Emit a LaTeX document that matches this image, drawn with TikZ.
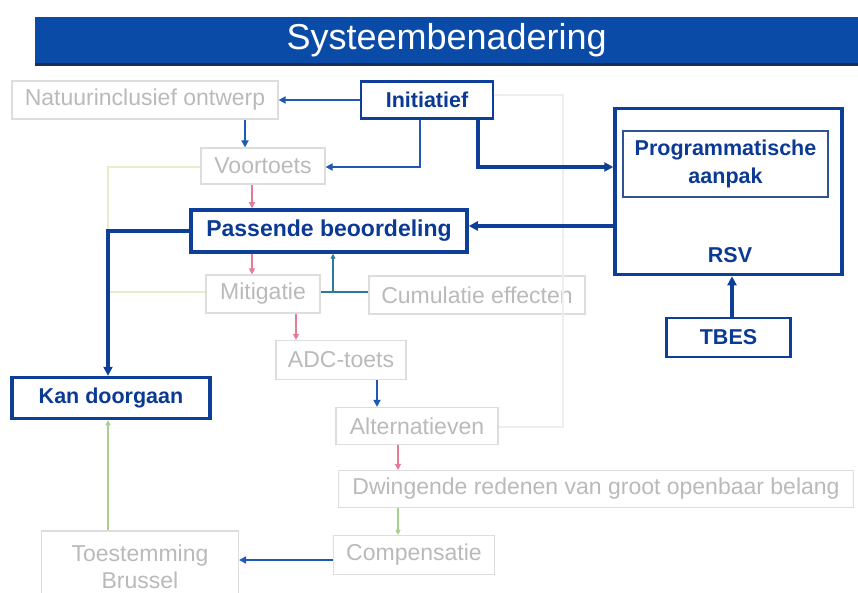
\documentclass[tikz,border=0pt]{standalone}
\usepackage{fontspec}
\setmainfont{Liberation Sans}
\usetikzlibrary{arrows.meta}
\definecolor{titleblue}{HTML}{0B4BA8}
\definecolor{titleshadow}{HTML}{1B2E55}
\definecolor{dblue}{HTML}{0D3F99}
\definecolor{tblue}{HTML}{0A3A94}
\definecolor{lgray}{HTML}{DDDDDD}
\definecolor{gtext}{HTML}{BABABA}
\definecolor{cpink}{HTML}{E87A95}
\definecolor{cgreen}{HTML}{A8D08D}
\definecolor{cyell}{HTML}{E6EDCB}
\definecolor{cteal}{HTML}{2A7A9A}
\definecolor{cfaint}{HTML}{EEEEEE}
\definecolor{cthin}{HTML}{1E5AB4}
\tikzset{
  graybox/.style={draw=lgray, line width=1.2pt, rectangle, inner sep=0pt, text=gtext,
    font=\fontsize{23}{27}\selectfont},
  bluebox/.style={draw=dblue, line width=3.5pt, rectangle, inner sep=0pt, text=tblue,
    font=\fontsize{21.5}{27}\selectfont\bfseries},
  midbox/.style={draw=dblue, line width=2.5pt, rectangle, inner sep=0pt, text=tblue,
    font=\fontsize{21.5}{27}\selectfont\bfseries},
  thinarrow/.style={draw=cthin, line width=2pt, -{Triangle[length=7pt,width=7pt]}},
  thickarrow/.style={draw=dblue, line width=3.2pt, -{Triangle[length=9pt,width=9pt]}},
  pinkarrow/.style={draw=cpink, line width=1.3pt, -{Triangle[length=6pt,width=6pt]}},
  greenarrow/.style={draw=cgreen, line width=1.2pt, -{Triangle[length=5pt,width=5pt]}},
  yellowline/.style={draw=cyell, line width=2pt},
  faintline/.style={draw=cfaint, line width=2pt},
  tealline/.style={draw=cteal, line width=1.8pt},
}
\begin{document}
\begin{tikzpicture}[x=1pt,y=-1pt]
\useasboundingbox (0,0) rectangle (858,593);
\fill[white] (0,0) rectangle (858,593);
% title
\fill[titleshadow] (35,19) rectangle (858,66);
\node[fill=titleblue, minimum width=823pt, minimum height=46pt, inner sep=0pt, anchor=north west,
  text=white, font=\fontsize{36}{40}\selectfont] (title) at (35,17) {Systeembenadering};
% column / row helpers
\coordinate (c108) at (108,0);
\coordinate (c245) at (245,0);
\coordinate (c252) at (252,0);
\coordinate (c296) at (296,0);
\coordinate (c333) at (333,0);
\coordinate (c377) at (377,0);
\coordinate (c398) at (398,0);
\coordinate (c420) at (420,0);
\coordinate (c478) at (478,0);
\coordinate (c563) at (563,0);
\coordinate (c732) at (732,0);
\coordinate (r95) at (0,95);
\coordinate (r167) at (0,167);
\coordinate (r226) at (0,226);
\coordinate (r292) at (0,292);
\coordinate (r427) at (0,427);
\coordinate (r560) at (0,560);
% nodes
\node[graybox, minimum width=266pt, minimum height=38pt] (natuur) at (145,100) {Natuurinclusief ontwerp};
\node[midbox, minimum width=132pt, minimum height=37pt] (init) at (427,100) {Initiatief};
\node[graybox, minimum width=124pt, minimum height=36pt] (voort) at (263,166) {Voortoets};
\node[bluebox, minimum width=276pt, minimum height=42pt, font=\fontsize{23}{27}\selectfont\bfseries] (pass) at (329,231) {Passende beoordeling};
\node[graybox, minimum width=114pt, minimum height=38pt] (mitig) at (263,294) {Mitigatie};
\node[graybox, minimum width=216pt, minimum height=38pt] (cumul) at (477,295) {Cumulatie effecten};
\node[graybox, minimum width=130pt, minimum height=39pt] (adc) at (341,360) {ADC-toets};
\node[bluebox, minimum width=198pt, minimum height=41pt] (kan) at (111,398) {Kan doorgaan};
\node[graybox, minimum width=162pt, minimum height=37pt] (altern) at (417,426) {Alternatieven};
\node[graybox, minimum width=515pt, minimum height=37pt] (dwing) at (596,489) {Dwingende redenen van groot openbaar belang};
\node[graybox, minimum width=161pt, minimum height=39pt] (comp) at (414,555) {Compensatie};
\node[graybox, minimum width=197pt, minimum height=72pt, align=center] (toest) at (140,567) {Toestemming\\Brussel};
\node[bluebox, minimum width=227pt, minimum height=166pt] (rsv) at (728.5,191.5) {};
\node[draw=dblue!70!gray, line width=1.6pt, rectangle, inner sep=0pt, text=tblue,
  font=\fontsize{21.5}{28}\selectfont\bfseries, align=center,
  minimum width=205pt, minimum height=66pt] (prog) at (725.5,164) {Programmatische\\aanpak};
\node[text=tblue, font=\fontsize{21.5}{27}\selectfont\bfseries, inner sep=0pt] (rsvlab) at (730,255) {RSV};
\node[midbox, minimum width=124pt, minimum height=39pt] (tbes) at (728.5,337.5) {TBES};
% faint connectors
\draw[faintline] (init.east |- r95) -- (c563 |- r95) -- (c563 |- r427) -- (altern.east |- r427);
\draw[yellowline] (voort.west |- r167) -| (kan.north -| c108);
\draw[yellowline] (mitig.west |- r292) -- (c108 |- r292);
\draw[greenarrow] (toest.north -| c108) -- (kan.south -| c108);
% connectors
\draw[thinarrow] (init.west) -- (init.west -| natuur.east);
\draw[thinarrow] (natuur.south -| c245) -- (voort.north -| c245);
\draw[thinarrow] (init.south -| c420) |- (voort.east |- r167);
\draw[thickarrow] (init.south -| c478) |- (rsv.west |- r167);
\draw[thickarrow] (rsv.west |- r226) -- (pass.east |- r226);
\draw[pinkarrow] (voort.south -| c252) -- (pass.north -| c252);
\draw[thickarrow] (pass.west) -| (kan.north -| c108);
\draw[pinkarrow] (pass.south -| c252) -- (mitig.north -| c252);
\draw[tealline] (mitig.east |- r292) -- (cumul.west |- r292);
\coordinate (tj) at (333,292);
\draw[tealline, -{Triangle[length=5pt,width=5pt]}] (tj) -- (pass.south -| tj);
\draw[pinkarrow] (mitig.south -| c296) -- (adc.north -| c296);
\draw[thinarrow] (adc.south -| c377) -- (altern.north -| c377);
\draw[pinkarrow] (altern.south -| c398) -- (dwing.north -| c398);
\draw[greenarrow] (dwing.south -| c398) -- (comp.north -| c398);
\draw[thinarrow] (comp.west |- r560) -- (toest.east |- r560);
\draw[thickarrow] (tbes.north -| c732) -- (rsv.south -| c732);
\end{tikzpicture}
\end{document}
